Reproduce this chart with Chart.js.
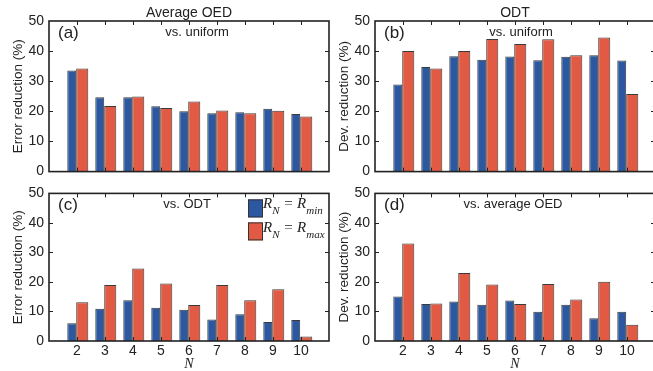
<!DOCTYPE html>
<html>

<head>
    <meta charset="utf-8">
    <title>OED vs ODT reduction</title>
    <script src="https://cdn.jsdelivr.net/npm/chart.js"></script>
</head>

<style>
    html,
    body {
        margin: 0;
        padding: 0;
        width: 653px;
        height: 371px;
        overflow: hidden;
        background: #fff;
    }

    canvas {
        position: absolute;
    }
</style>

<body>
    <canvas id="chartA" width="330" height="185" style="left:0;top:0"></canvas>
    <canvas id="chartB" width="330" height="185" style="left:326px;top:0"></canvas>
    <canvas id="chartC" width="330" height="191" style="left:0;top:180px"></canvas>
    <canvas id="chartD" width="330" height="191" style="left:326px;top:180px"></canvas>

    <script>
        // number of points N (x axis)
        const N = [2, 3, 4, 5, 6, 7, 8, 9, 10];
        const yTicks = [0, 10, 20, 30, 40, 50];
        const legendLabels = ['R_N = R_min', 'R_N = R_max'];
        const barColors = ['#2c58a2', '#e25a43'];

        // (a) average OED vs. uniform, error reduction (%)
        const oedUniformMin = [33.6, 24.7, 24.7, 21.7, 20.0, 19.4, 19.7, 20.9, 19.1];
        const oedUniformMax = [34.2, 21.8, 24.9, 21.1, 23.3, 20.3, 19.4, 20.2, 18.3];
        // (b) ODT vs. uniform, dev. reduction (%)
        const odtUniformMin = [28.9, 34.7, 38.3, 37.1, 38.2, 37.0, 38.1, 38.6, 36.9];
        const odtUniformMax = [40.0, 34.2, 40.0, 44.0, 42.4, 43.9, 38.6, 44.5, 25.8];
        // (c) vs. ODT, error reduction (%)
        const vsOdtMin = [6.0, 10.9, 13.8, 11.3, 10.6, 7.3, 9.1, 6.4, 7.1];
        const vsOdtMax = [13.1, 19.0, 24.6, 19.5, 12.2, 19.0, 13.8, 17.5, 1.5];
        // (d) vs. average OED, dev. reduction (%)
        const vsOedMin = [15.1, 12.5, 13.4, 12.3, 13.7, 9.9, 12.3, 7.7, 9.9];
        const vsOedMax = [33.0, 12.7, 23.0, 19.1, 12.5, 19.3, 14.1, 20.1, 5.5];

        Chart.defaults.font.family = '"Liberation Sans", Arial, sans-serif';
        Chart.defaults.color = '#222';

        // text with _subscripts, italic serif like the original legend
        function drawRich(ctx, text, x, y) {
            const re = /_(\w+)|([^_]+)/g;
            let m;
            while ((m = re.exec(text))) {
                if (m[1]) {
                    ctx.font = 'italic 11px "Liberation Serif"';
                    ctx.fillText(m[1], x, y + 6);
                    x += ctx.measureText(m[1]).width;
                } else {
                    ctx.font = 'italic 15px "Liberation Serif"';
                    ctx.fillText(m[2], x, y);
                    x += ctx.measureText(m[2]).width;
                }
            }
        }

        // box, inward ticks and the texts inside each panel
        const panelDeco = {
            id: 'panelDeco',
            afterDatasetsDraw(chart, args, o) {
                const ctx = chart.ctx, a = chart.chartArea;
                const xs = chart.scales.x, ys = chart.scales.y;
                ctx.save();
                ctx.strokeStyle = '#222';
                ctx.lineWidth = 1;
                ctx.beginPath();
                yTicks.slice(1, -1).forEach(v => {
                    const y = Math.round(ys.getPixelForValue(v)) + 0.5;
                    ctx.moveTo(a.left, y); ctx.lineTo(a.left + 4, y);
                    ctx.moveTo(a.right, y); ctx.lineTo(a.right - 4, y);
                });
                N.forEach(n => {
                    const x = Math.round(xs.getPixelForValue(n)) + 0.5;
                    ctx.moveTo(x, a.top); ctx.lineTo(x, a.top + 4);
                    ctx.moveTo(x, a.bottom); ctx.lineTo(x, a.bottom - 4);
                });
                ctx.stroke();
                ctx.lineWidth = 1.6;
                ctx.strokeRect(a.left, a.top, a.right - a.left, a.bottom - a.top);

                const cx = (a.left + a.right) / 2;
                ctx.fillStyle = '#222';
                ctx.textBaseline = 'middle';
                ctx.textAlign = 'center';
                if (o.title) {
                    ctx.font = '14px "Liberation Sans"';
                    ctx.fillText(o.title, cx, a.top - 8);
                }
                ctx.font = '13px "Liberation Sans"';
                ctx.fillText(o.note, cx + o.noteDx, a.top + 11);
                ctx.textAlign = 'left';
                ctx.font = '17px "Liberation Sans"';
                ctx.fillText(o.tag, a.left + 9, a.top + 12);

                if (o.legend) {
                    ctx.textBaseline = 'alphabetic';
                    legendLabels.forEach((lab, i) => {
                        const bx = a.right - 81, by = a.top + 6 + i * 23;
                        ctx.fillStyle = barColors[i];
                        ctx.fillRect(bx, by, 15, 18);
                        ctx.lineWidth = 1;
                        ctx.strokeStyle = '#333';
                        ctx.strokeRect(bx + 0.5, by + 0.5, 14, 17);
                        ctx.fillStyle = '#222';
                        drawRich(ctx, lab, a.right - 66, a.top + 15 + i * 24);
                    });
                }
                ctx.restore();
            }
        };

        const panels = [
            { id: 'chartA', vals: [oedUniformMin, oedUniformMax], title: 'Average OED', note: 'vs. uniform', noteDx: 8, tag: '(a)', yTitle: 'Error reduction (%)', bottom: false, legend: false },
            { id: 'chartB', vals: [odtUniformMin, odtUniformMax], title: 'ODT', note: 'vs. uniform', noteDx: 6, tag: '(b)', yTitle: 'Dev. reduction (%)', bottom: false, legend: false },
            { id: 'chartC', vals: [vsOdtMin, vsOdtMax], title: '', note: 'vs. ODT', noteDx: -2, tag: '(c)', yTitle: 'Error reduction (%)', bottom: true, legend: true },
            { id: 'chartD', vals: [vsOedMin, vsOedMax], title: '', note: 'vs. average OED', noteDx: -2, tag: '(d)', yTitle: 'Dev. reduction (%)', bottom: true, legend: false }
        ];

        panels.forEach(p => {
            const xHeight = p.bottom ? 30 : 11;
            new Chart(document.getElementById(p.id), {
                type: 'bar',
                data: {
                    datasets: p.vals.map((v, i) => ({
                        label: legendLabels[i],
                        data: N.map((n, j) => ({ x: n, y: v[j] })),
                        backgroundColor: barColors[i],
                        borderColor: '#3a3a3a',
                        borderWidth: 1,
                        categoryPercentage: 0.75,
                        barPercentage: i === 0 ? 0.85 : 1.15
                    }))
                },
                options: {
                    responsive: false,
                    animation: false,
                    layout: {
                        autoPadding: false,
                        padding: { top: p.bottom ? 6 : 21, right: 1, left: 0, bottom: 0 }
                    },
                    plugins: {
                        legend: { display: false },
                        tooltip: { enabled: false },
                        panelDeco: p
                    },
                    scales: {
                        x: {
                            type: 'linear',
                            min: 1,
                            max: 11,
                            offset: false,
                            grid: { display: false, drawTicks: false, offset: false },
                            border: { display: false },
                            afterBuildTicks: s => { s.ticks = N.map(v => ({ value: v })); },
                            afterFit: s => { s.height = xHeight; },
                            ticks: {
                                display: p.bottom,
                                padding: 2,
                                maxRotation: 0,
                                autoSkip: false,
                                font: { size: 14 },
                                color: '#222'
                            },
                            title: {
                                display: p.bottom,
                                text: 'N',
                                color: '#222',
                                font: { family: '"Liberation Serif"', style: 'italic', size: 14, lineHeight: 1 },
                                padding: { top: 0, bottom: 0 }
                            }
                        },
                        y: {
                            min: 0,
                            max: 50,
                            grid: { display: false, drawTicks: false },
                            border: { display: false },
                            afterBuildTicks: s => { s.ticks = yTicks.map(v => ({ value: v })); },
                            afterFit: s => { s.width = 49; },
                            ticks: { padding: 5, font: { size: 14 }, color: '#222' },
                            title: {
                                display: true,
                                text: p.yTitle,
                                color: '#222',
                                font: { size: 13.5 },
                                padding: { top: 10, bottom: 0 }
                            }
                        }
                    }
                },
                plugins: [panelDeco]
            });
        });
    </script>

</body>

</html>
